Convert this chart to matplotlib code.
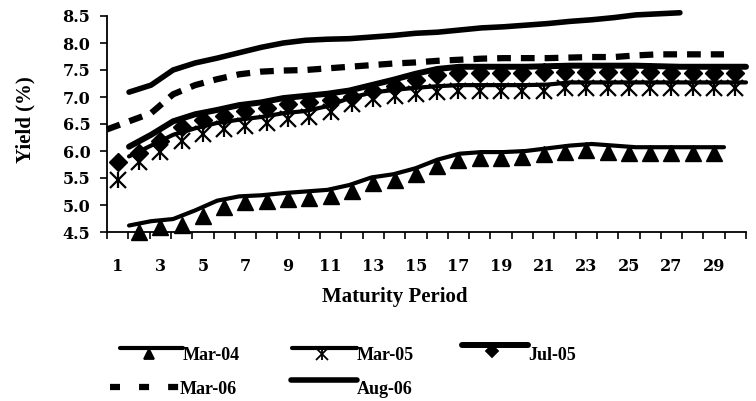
import numpy as np
import matplotlib
matplotlib.use("Agg")
import matplotlib.pyplot as plt
from matplotlib.lines import Line2D
import matplotlib.transforms as mtransforms

nan = np.nan
periods = np.arange(1, 31)

mar04 = [nan, 4.62, 4.70, 4.74, 4.90, 5.08, 5.16, 5.18, 5.22, 5.25,
         5.28, 5.37, 5.51, 5.57, 5.68, 5.84, 5.95, 5.98, 5.98, 6.00,
         6.05, 6.10, 6.13, 6.10, 6.07, 6.07, 6.07, 6.07, 6.07, nan]
mar05 = [5.57, 5.90, 6.10, 6.30, 6.42, 6.52, 6.58, 6.63, 6.70, 6.74,
         6.83, 6.98, 7.08, 7.13, 7.17, 7.20, 7.22, 7.22, 7.22, 7.22,
         7.23, 7.27, 7.27, 7.27, 7.27, 7.27, 7.27, 7.27, 7.27, 7.27]
jul05 = [5.90, 6.08, 6.30, 6.55, 6.68, 6.76, 6.85, 6.90, 6.98, 7.02,
         7.06, 7.12, 7.22, 7.32, 7.43, 7.52, 7.56, 7.56, 7.56, 7.56,
         7.57, 7.58, 7.58, 7.58, 7.58, 7.57, 7.56, 7.56, 7.56, 7.56]
mar06 = [6.40, 6.55, 6.70, 7.05, 7.22, 7.33, 7.42, 7.47, 7.49, 7.50,
         7.53, 7.56, 7.59, 7.62, 7.64, 7.67, 7.69, 7.71, 7.72, 7.72,
         7.72, 7.73, 7.74, 7.74, 7.77, 7.79, 7.79, 7.79, 7.79, nan]
aug06 = [nan, 7.09, 7.22, 7.50, 7.63, 7.72, 7.82, 7.92, 8.00, 8.05,
         8.07, 8.08, 8.11, 8.14, 8.18, 8.20, 8.24, 8.28, 8.30, 8.33,
         8.36, 8.40, 8.43, 8.47, 8.52, 8.54, 8.56, nan, nan, nan]

yticks = [4.5, 5.0, 5.5, 6.0, 6.5, 7.0, 7.5, 8.0, 8.5]

fig = plt.figure(figsize=(7.56, 4.01), dpi=100)
ax = fig.add_axes([107/756, 1 - 232/401, 639/756, 216/401])

# line is spread over the full category width, markers sit in the middle
xline = 0.5 + (periods - 1) * 30 / 29
mk = mtransforms.offset_copy(ax.transData, fig=fig, x=0, y=-6, units='dots')

ax.plot(xline, mar04, color='black', lw=3, solid_capstyle='round', clip_on=False)
ax.plot(xline[1:], mar05[1:], color='black', lw=3, solid_capstyle='round', clip_on=False)
ax.plot(xline[1:], jul05[1:], color='black', lw=4.3, solid_capstyle='round', clip_on=False)
ax.plot(xline, mar06, color='black', lw=4.5, ls=(0, (2.2, 1.6)), dash_capstyle='butt', clip_on=False)
ax.plot(xline, aug06, color='black', lw=4, solid_capstyle='round', clip_on=False)

ax.plot(periods, mar04, ls='none', marker='^', ms=11.5, color='black', transform=mk, clip_on=False)
ax.plot(periods, mar05, ls='none', marker='x', ms=12, mew=1.6, color='black', transform=mk, clip_on=False)
ax.plot(periods, mar05, ls='none', marker='|', ms=12, mew=1.6, color='black', transform=mk, clip_on=False)
ax.plot(periods, jul05, ls='none', marker='D', ms=9, color='black', transform=mk, clip_on=False)

ax.set_xlim(0.5, 30.5)
ax.set_ylim(4.5, 8.5)
ax.spines['top'].set_visible(False)
ax.spines['right'].set_visible(False)
ax.spines['left'].set_linewidth(1.3)
ax.spines['bottom'].set_linewidth(1.3)

ax.set_yticks(yticks)
ax.set_yticklabels(['%.1f' % v for v in yticks])
ax.set_xticks(periods[::2])
ax.set_xticklabels([str(p) for p in periods[::2]])
ax.set_xticks(np.arange(0.5, 31, 1), minor=True)
ax.tick_params(axis='x', which='major', length=0, pad=19)
ax.tick_params(axis='x', which='minor', length=5, width=1.2, direction='out')
ax.tick_params(axis='y', length=5, width=1.2, direction='out', pad=7)
for lab in ax.get_xticklabels() + ax.get_yticklabels():
    lab.set_family('DejaVu Serif')
    lab.set_fontweight('bold')
    lab.set_fontsize(11.5)

ax.set_xlabel('Maturity Period', family='Liberation Serif', fontweight='bold', fontsize=15)
ax.xaxis.set_label_coords(0.451, -0.255)
ax.set_ylabel('Yield (%)', family='Liberation Serif', fontweight='bold', fontsize=15, va='center')
ax.yaxis.set_label_coords(-0.128, 0.52)

# legend drawn by hand, two rows
pix = mtransforms.Affine2D().scale(1, -1).translate(0, 401) + mtransforms.IdentityTransform()
legend_items = [
    ('Mar-04', 120, 183, 348, 355, dict(lw=3), '^', 10),
    ('Mar-05', 292, 357, 348, 355, dict(lw=3), 'x', 11),
    ('Jul-05', 462, 528, 345, 355, dict(lw=4.3), 'D', 8),
    ('Mar-06', 110, 180, 387, 389, dict(lw=4.5, ls=(0, (1.6, 3.05))), None, 0),
    ('Aug-06', 291, 357, 380, 390, dict(lw=4), None, 0),
]
for name, x0, x1, yl, yt, style, m, ms in legend_items:
    fig.add_artist(Line2D([x0, x1], [yl, yl], color='black', transform=pix,
                          solid_capstyle='round', dash_capstyle='butt', **style))
    if m is not None:
        fig.add_artist(Line2D([(x0 + x1) / 2 - 3], [yl + 6], color='black', marker=m,
                              ms=ms * 0.75, mew=1.3, transform=pix))
        if m == 'x':
            fig.add_artist(Line2D([(x0 + x1) / 2 - 3], [yl + 6], color='black', marker='|',
                                  ms=ms * 0.75, mew=1.3, transform=pix))
    fig.text(x1 / 756, 1 - yt / 401, name, family='Liberation Serif', fontweight='bold',
             fontsize=13, va='center', ha='left')

fig.savefig('out.png', dpi=100)
